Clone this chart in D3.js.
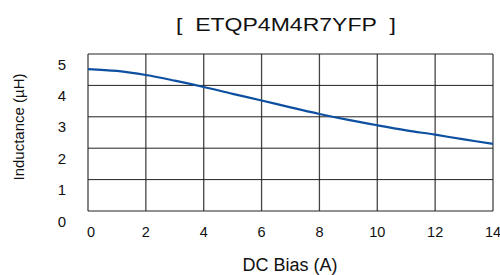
<!DOCTYPE html>
<html>
<head>
<meta charset="utf-8">
<script src="https://cdn.jsdelivr.net/npm/d3@7"></script>
<style>
  body { margin: 0; background: #fff; }
  text { font-family: "Liberation Sans", Arial, sans-serif; fill: #111; }
</style>
</head>
<body>
<div id="chart"></div>
<script>
// chart data
const titleText = "[\u00a0\u00a0ETQP4M4R7YFP\u00a0\u00a0]";
const biasA = [0, 1, 2, 3, 4, 5, 6, 7, 8, 9, 10, 11, 12, 13, 14];
const inductance = [4.52, 4.46, 4.33, 4.15, 3.95, 3.73, 3.52, 3.30, 3.09, 2.90, 2.73, 2.57, 2.43, 2.28, 2.14];
const xTicks = [0, 2, 4, 6, 8, 10, 12, 14];
const yTicks = [0, 1, 2, 3, 4, 5];

const width = 500, height = 275;
const margin = { top: 54, right: 7, bottom: 64, left: 88 };

const svg = d3.select("#chart").append("svg")
    .attr("width", width)
    .attr("height", height);

let x = d3.scaleLinear().domain([0, 14]).range([margin.left, width - margin.right]);
let y = d3.scaleLinear().domain([0, 5]).range([height - margin.bottom, margin.top]);

// grid
svg.append("g").selectAll("line")
    .data(xTicks)
    .enter().append("line")
    .attr("x1", d => x(d)).attr("x2", d => x(d))
    .attr("y1", y(0)).attr("y2", y(5))
    .attr("stroke", "#444")
    .attr("stroke-width", 1.3);

svg.append("g").selectAll("line")
    .data(yTicks)
    .enter().append("line")
    .attr("x1", x(0)).attr("x2", x(14))
    .attr("y1", d => y(d)).attr("y2", d => y(d))
    .attr("stroke", "#222")
    .attr("stroke-width", 1);

// tick labels (the original sits them a little below the lines)
svg.append("g").selectAll("text")
    .data(yTicks)
    .enter().append("text")
    .attr("x", 62)
    .attr("y", d => y(d) + 15.5)
    .attr("text-anchor", "middle")
    .style("font-size", "15px")
    .text(d => d);

svg.append("g").selectAll("text")
    .data(xTicks)
    .enter().append("text")
    .attr("x", d => x(d) + (d === 0 ? 3 : 0))
    .attr("y", 237)
    .attr("text-anchor", "middle")
    .style("font-size", "14.5px")
    .text(d => d);

// curve
let line = d3.line()
    .x((d, i) => x(biasA[i]))
    .y(d => y(d))
    .curve(d3.curveCatmullRom.alpha(0.5));

svg.append("path")
    .datum(inductance)
    .attr("fill", "none")
    .attr("stroke", "#0d4fa0")
    .attr("stroke-width", 2.2)
    .attr("d", line);

// titles (title glyphs are stretched wide in the original)
svg.append("text")
    .attr("transform", "translate(286,31) scale(1.28,1)")
    .attr("text-anchor", "middle")
    .style("font-size", "18px")
    .text(titleText);

svg.append("text")
    .attr("x", 290)
    .attr("y", 271)
    .attr("text-anchor", "middle")
    .style("font-size", "18px")
    .text("DC Bias (A)");

svg.append("text")
    .attr("transform", "translate(24,127) rotate(-90)")
    .attr("text-anchor", "middle")
    .style("font-size", "15px")
    .text("Inductance (µH)");
</script>
</body>
</html>
